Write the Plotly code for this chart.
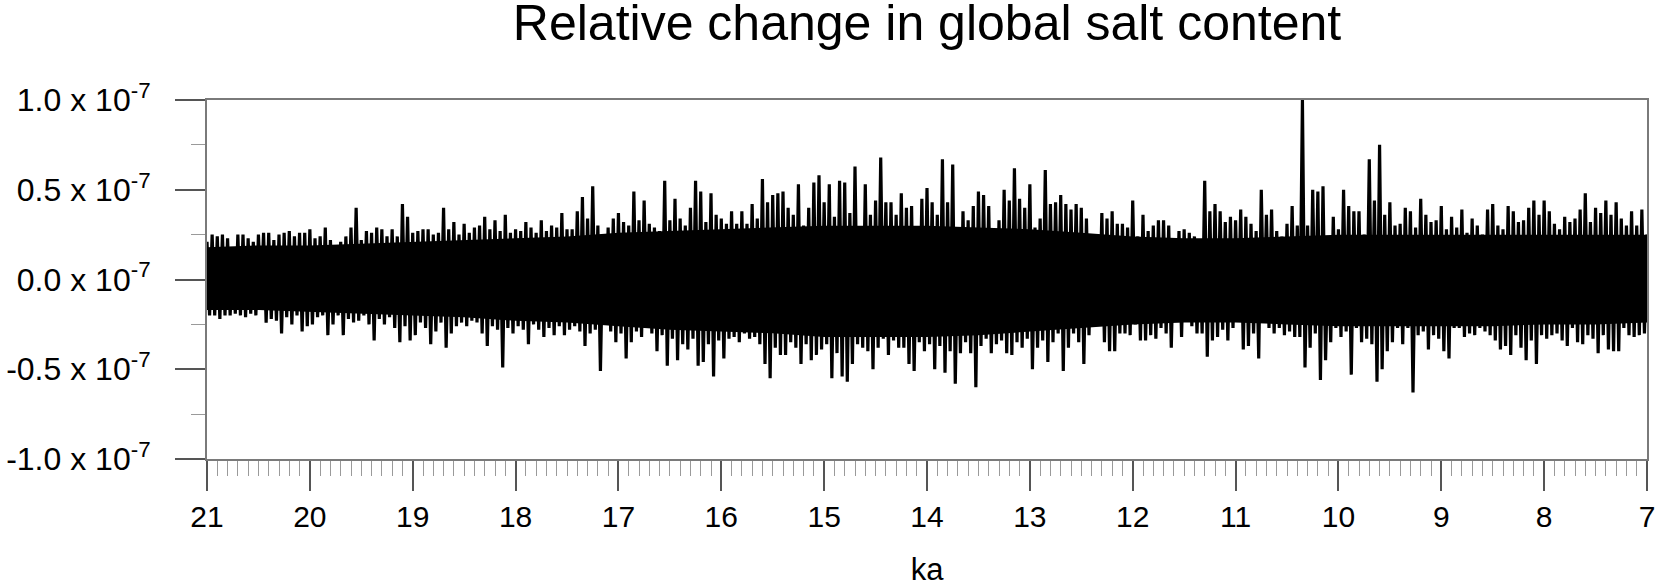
import numpy as np
import plotly.graph_objects as go

# Time axis (ka), sampled every 0.05 ka from 21 to 7
ka_start, ka_end, ka_step = 21.0, 7.0, 0.05

# Upper extremes (units of 1e-9) read per 0.05 ka step
upper = [
    21, 25, 24, 25, 23, 15, 25, 25, 23, 21, 25, 26, 26, 22, 25, 26, 27, 24, 26, 26,
    28, 23, 24, 29, 22, 17, 21, 24, 29, 40, 22, 27, 26, 29, 28, 24, 28, 24, 42, 35,
    26, 27, 28, 28, 25, 26, 40, 28, 32, 25, 31, 26, 29, 30, 35,
    28, 33, 27, 36, 26, 28, 27, 32, 29, 26, 33, 27, 30, 29, 37, 28, 28, 38, 46, 34,
    52, 30, 24, 29, 34, 37, 32, 30, 49, 33, 44, 31, 29, 27, 55, 33, 45, 34, 30, 40,
    55, 49, 32, 48, 36, 34, 31, 38, 31, 38, 31, 42, 34, 56, 43, 47, 48,
    49, 40, 36, 53, 30, 40, 54, 58, 43, 53, 35, 55, 54, 37, 63, 27, 53, 36, 44, 68,
    43, 43, 36, 48, 40, 41, 27, 45, 51, 43, 36, 67, 43, 64, 27, 38, 33, 41, 49, 47,
    41, 23, 33, 50, 44, 62, 45, 40, 53, 29, 34, 61, 42, 43, 47, 42,
    39, 42, 40, 34, 23, 25, 37, 34, 38, 31, 31, 29, 44, 24, 36, 27, 30, 33, 33, 30,
    23, 27, 28, 26, 24, 21, 55, 38, 42, 38, 32, 35, 33, 39, 35, 31, 27, 50, 36, 39,
    27, 24, 31, 41, 30, 100, 30, 50, 49, 52, 16, 35, 28, 50, 41, 38, 38,
    25, 67, 44, 75, 36, 43, 30, 31, 40, 38, 29, 45, 36, 32, 33, 41, 28, 35, 29, 39,
    26, 34, 30, 25, 39, 42, 30, 28, 41, 38, 32, 33, 40, 44, 36, 44, 38, 31, 28, 35,
    32, 34, 39, 48, 32, 40, 37, 44, 36, 43, 34, 30, 38, 30, 39, 25,
]

# Lower extremes (units of 1e-9) read per 0.05 ka step
lower = [
    -20, -20, -22, -20, -20, -19, -20, -21, -19, -20, -13, -24, -22, -23, -30, -21, -25, -20, -29, -26,
    -25, -21, -20, -31, -25, -20, -31, -22, -24, -23, -20, -25, -34, -22, -25, -21, -27, -35, -26, -34,
    -31, -24, -27, -36, -29, -24, -38, -30, -26, -24, -26, -23, -24, -30, -37,
    -26, -28, -49, -27, -30, -26, -28, -36, -25, -28, -32, -27, -31, -26, -31, -28, -26, -29, -37, -30,
    -28, -51, -25, -29, -35, -30, -44, -35, -29, -32, -26, -30, -40, -31, -48, -33, -45, -36, -39, -33,
    -48, -46, -36, -54, -34, -44, -33, -32, -35, -30, -33, -32, -36, -47, -55, -38, -42,
    -42, -35, -38, -47, -36, -45, -42, -39, -36, -55, -41, -54, -57, -47, -36, -38, -40, -50, -38, -33,
    -42, -34, -38, -38, -47, -51, -35, -40, -36, -50, -37, -52, -40, -58, -41, -35, -41, -60, -37, -33,
    -41, -36, -34, -41, -42, -35, -38, -33, -50, -38, -34, -46, -35, -30, -51, -38,
    -30, -35, -47, -31, -19, -24, -35, -40, -40, -30, -30, -31, -25, -34, -34, -31, -33, -27, -30, -38,
    -23, -32, -23, -26, -30, -30, -43, -34, -32, -28, -34, -27, -23, -39, -37, -30, -44, -23, -27, -30,
    -27, -31, -29, -32, -32, -49, -38, -30, -56, -45, -35, -27, -32, -29, -53, -27, -35,
    -33, -36, -57, -50, -40, -35, -27, -36, -27, -63, -31, -29, -39, -31, -33, -40, -44, -27, -27, -32,
    -30, -31, -27, -29, -31, -34, -39, -37, -42, -31, -38, -45, -34, -47, -31, -33, -31, -30, -34, -37,
    -27, -35, -36, -31, -33, -41, -31, -39, -40, -40, -27, -31, -32, -31, -30, -28,
]

# Dense (solid) core of the signal (units of 1e-9), read every 0.5 ka from 21 to 7
core_ka = [21.0, 20.5, 20.0, 19.5, 19.0, 18.5, 18.0, 17.5, 17.0, 16.5, 16.0, 15.5, 15.0, 14.5, 14.0,
           13.5, 13.0, 12.5, 12.0, 11.5, 11.0, 10.5, 10.0, 9.5, 9.0, 8.5, 8.0, 7.5, 7.0]
core_hi = [18, 19, 19, 20, 21, 22, 23, 24, 26, 27, 28, 29, 30, 30, 30,
           29, 28, 26, 24, 23, 23, 24, 25, 25, 25, 25, 25, 25, 25]
core_lo = [-17, -17, -18, -19, -20, -21, -23, -24, -26, -28, -29, -30, -32, -32, -32,
           -31, -29, -27, -25, -24, -24, -25, -26, -26, -26, -26, -25, -25, -24]

y_ticks = [-1.0e-7, -0.5e-7, 0.0, 0.5e-7, 1.0e-7]
y_ticktext = ["-1.0 x 10<sup>-7</sup>", "-0.5 x 10<sup>-7</sup>", "0.0 x 10<sup>-7</sup>",
              "0.5 x 10<sup>-7</sup>", "1.0 x 10<sup>-7</sup>"]
x_ticks = [21, 20, 19, 18, 17, 16, 15, 14, 13, 12, 11, 10, 9, 8, 7]

assert len(upper) == len(lower) == 281

scale = 1e-9
n = len(upper)
t = ka_start - ka_step * np.arange(n)
xs, ys = [], []
for i in range(n):
    xs.append(t[i]); ys.append(upper[i] * scale)
    xs.append(t[i] - ka_step / 2); ys.append(lower[i] * scale)

FONT = "Liberation Sans, Arial, Helvetica, sans-serif"

fig = go.Figure()
fig.add_trace(go.Scatter(
    x=core_ka + core_ka[::-1],
    y=[v * scale for v in core_hi] + [v * scale for v in core_lo[::-1]],
    fill="toself", fillcolor="black", mode="lines", line=dict(width=0, color="black"),
    hoverinfo="skip", showlegend=False))
fig.add_trace(go.Scatter(x=xs, y=ys, mode="lines",
                         line=dict(color="black", width=3.2), showlegend=False))

axis_line = "#7a7a7a"
fig.update_layout(
    template="none",
    width=1656, height=587,
    margin=dict(l=207, r=9, t=100, b=128, autoexpand=False),
    paper_bgcolor="white", plot_bgcolor="white",
    font=dict(family=FONT, color="black", size=30),
    title=dict(text="Relative change in global salt content", x=(207 + 1647) / 2 / 1656,
               xanchor="center", y=1 - 22 / 587, yanchor="middle", automargin=False,
               font=dict(size=50, family=FONT, color="black")),
    xaxis=dict(range=[21, 7], tickvals=x_ticks, ticktext=[str(v) for v in x_ticks],
               ticks="outside", ticklen=30, tickwidth=1.5, tickcolor="#555",
               showline=True, linecolor=axis_line, linewidth=2, mirror=True,
               showgrid=False, zeroline=False, automargin=False,
               ticklabeloverflow="allow",
               minor=dict(dtick=0.1, tick0=7, ticks="outside", ticklen=15,
                          tickwidth=1, tickcolor="#9a9a9a", showgrid=False),
               tickfont=dict(size=30), ticklabelstandoff=0,
               title=dict(text="ka", font=dict(size=31), standoff=28)),
    yaxis=dict(range=[-1.0e-7, 1.0e-7], tickvals=y_ticks, ticktext=y_ticktext,
               ticks="outside", ticklen=30, tickwidth=1.5, tickcolor="#555",
               showline=True, linecolor=axis_line, linewidth=2, mirror=True,
               showgrid=False, zeroline=False, automargin=False,
               ticklabeloverflow="allow",
               minor=dict(dtick=0.25e-7, tick0=0, ticks="outside", ticklen=14,
                          tickwidth=1, tickcolor="#9a9a9a", showgrid=False),
               tickfont=dict(size=32), ticklabelstandoff=18),
)

# Remove the default page margin so the figure fills the window exactly
fig.write_html("out.html", config={"displayModeBar": False},
               post_script="document.body.style.margin='0px';document.body.style.overflow='hidden';")
